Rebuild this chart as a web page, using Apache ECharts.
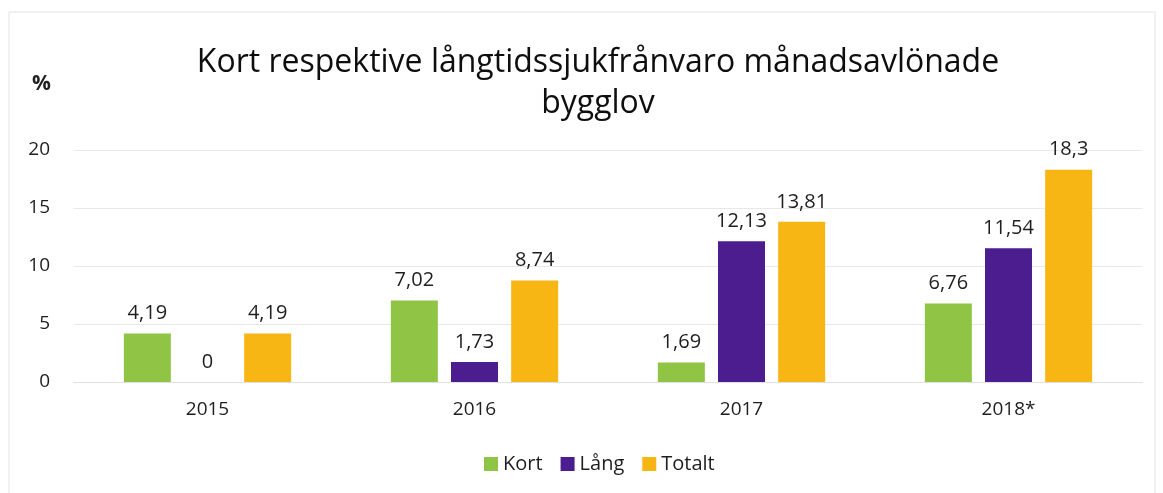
<!DOCTYPE html>
<html>
<head>
<meta charset="utf-8">
<script src="https://cdn.jsdelivr.net/npm/echarts@6/dist/echarts.min.js"></script>
<style>
  html, body { margin: 0; padding: 0; background: #fff; }
  #chart { width: 1163px; height: 493px; }
</style>
</head>
<body>
<div id="chart"></div>
<script>
const years = ['2015', '2016', '2017', '2018*']
const kort = [4.19, 7.02, 1.69, 6.76]
const lang = [0, 1.73, 12.13, 11.54]
const totalt = [4.19, 8.74, 13.81, 18.3]
const yTicks = [0, 5, 10, 15, 20]

const font = '"Open Sans", Lato, sans-serif'
const chart = echarts.init(document.getElementById('chart'))

const labelFmt = p => String(p.value).replace('.', ',')

const barSeries = (name, data, color) => ({
  name,
  type: 'bar',
  data,
  barWidth: 47,
  barGap: '28%',
  itemStyle: { color },
  label: {
    show: true,
    position: 'top',
    distance: 10,
    color: '#1e1e1e',
    fontFamily: font,
    fontSize: 20,
    formatter: labelFmt
  }
})

chart.setOption({
  backgroundColor: '#fff',
  animation: false,
  graphic: [{
    type: 'rect',
    shape: { x: 9, y: 12, width: 1146, height: 490 },
    style: { fill: 'none', stroke: '#e4e4e4', lineWidth: 1 }
  }, {
    type: 'text',
    left: 32,
    top: 74,
    style: { text: '%', fontFamily: font, fontSize: 21, fontWeight: 'bold', fill: '#222' }
  }],
  title: {
    text: 'Kort respektive långtidssjukfrånvaro månadsavlönade\nbygglov',
    left: 593,
    textAlign: 'center',
    top: 37,
    textStyle: {
      fontFamily: font,
      fontSize: 32,
      fontWeight: 'normal',
      color: '#0e0e0e',
      lineHeight: 41
    }
  },
  legend: {
    bottom: 14,
    left: 479,
    itemWidth: 14,
    itemHeight: 14,
    itemGap: 18,
    icon: 'rect',
    textStyle: { fontFamily: font, fontSize: 20, color: '#1e1e1e' },
    data: ['Kort', 'Lång', 'Totalt']
  },
  grid: { left: 74, right: 21, top: 150, bottom: 111 },
  xAxis: {
    type: 'category',
    data: years,
    axisTick: { show: false },
    axisLine: { lineStyle: { color: '#e0e0e0' } },
    axisLabel: { color: '#1e1e1e', fontFamily: font, fontSize: 19, margin: 18 }
  },
  yAxis: {
    type: 'value',
    min: yTicks[0],
    max: yTicks[yTicks.length - 1],
    interval: 5,
    axisLine: { show: false },
    axisTick: { show: false },
    axisLabel: { color: '#1e1e1e', fontFamily: font, fontSize: 19, margin: 24 },
    splitLine: { lineStyle: { color: '#e8e8e8' } }
  },
  series: [
    barSeries('Kort', kort, '#8fc445'),
    barSeries('Lång', lang, '#4b1d8f'),
    barSeries('Totalt', totalt, '#f8b614')
  ]
})
</script>
</body>
</html>
